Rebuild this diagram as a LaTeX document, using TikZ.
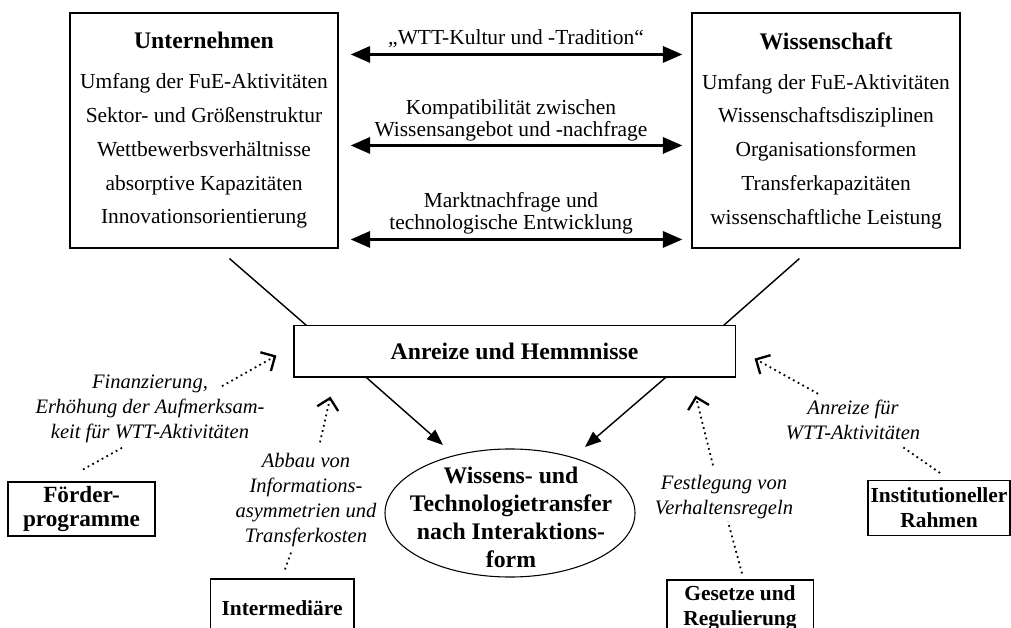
\documentclass[tikz,border=0pt]{standalone}
\usepackage{fontspec}
\setmainfont{Liberation Serif}
\usetikzlibrary{shapes.geometric,arrows.meta,positioning,calc}
\newcommand{\hdr}{\fontsize{13.3}{15.7}\selectfont\bfseries}

\begin{document}
\begin{tikzpicture}[x=0.56pt,y=-0.56pt,font=\fontsize{12}{12.3}\selectfont,
  box/.style={draw,line width=0.6pt,align=center,inner sep=0pt},
  side/.style={box,minimum width=150.1pt,minimum height=131.6pt,font=\fontsize{12}{18.9}\selectfont},
  src/.style={box,minimum height=30.2pt,font=\fontsize{12}{14}\selectfont\bfseries},
  lbl/.style={align=center,inner sep=0pt},
  hint/.style={lbl,font=\fontsize{11.5}{14}\selectfont\itshape},
  dbl/.style={line width=1.8pt,{Triangle[length=11pt,width=9pt]}-{Triangle[length=11pt,width=9pt]}},
  flow/.style={line width=0.8pt,-{Triangle[length=9pt,width=7pt]}},
  infl/.style={dotted,line width=1pt},
  inflarr/.style={infl,-{Straight Barb[length=6pt,width=12pt,line width=1.3pt]}}]
\useasboundingbox (0,0) rectangle (1011,628);
% the two sides
\node[side] (unt) at (204,130.5) {{\hdr Unternehmen}\\[3.5pt]Umfang der FuE-Aktivitäten\\Sektor- und Größenstruktur\\Wettbewerbsverhältnisse\\absorptive Kapazitäten\\Innovationsorientierung};
\node[side] (wis) at (826,130.5) {{\hdr Wissenschaft}\\[3.5pt]Umfang der FuE-Aktivitäten\\Wissenschaftsdisziplinen\\Organisationsformen\\Transferkapazitäten\\wissenschaftliche Leistung};
\node[lbl] (kult) at (516,38.5) {„WTT-Kultur und -Tradition“};
\node[lbl] (komp) at (511,120) {Kompatibilität zwischen\\Wissensangebot und -nachfrage};
\node[lbl] (markt) at (511,213.5) {Marktnachfrage und\\technologische Entwicklung};
\draw[dbl] ([shift={(12,42)}]unt.north east) -- ([shift={(-9,42)}]wis.north west);
\draw[dbl] ([shift={(12,133)}]unt.north east) -- ([shift={(-9,133)}]wis.north west);
\draw[dbl] ([shift={(12,227)}]unt.north east) -- ([shift={(-9,227)}]wis.north west);
% centre
\node[box,minimum width=247pt,minimum height=28.6pt,font=\hdr] (anr) at (514.5,351.5) {Anreize und Hemmnisse};
\node[ellipse,draw,line width=0.6pt,minimum width=140pt,minimum height=71.7pt,inner sep=0pt] (wtt) at (510,513) {};
\node[lbl,font=\hdr] (wtttxt) at (511,517) {Wissens- und\\Technologietransfer\\nach Interaktions-\\form};
\draw[line width=0.8pt] ([shift={(160,10)}]unt.south west) -- ([shift={(13,0)}]anr.north west);
\draw[line width=0.8pt] ([shift={(108,10)}]wis.south west) -- ([shift={(-12,0)}]anr.north east);
\draw[flow] ([shift={(73,0)}]anr.south west) -- ($(wtt.center)+(-67,-68)$);
\draw[flow] ([shift={(-70,0)}]anr.south east) -- ($(wtt.center)+(75,-66)$);
% influences
\node[src,minimum width=82.3pt,font=\fontsize{13}{13}\selectfont\bfseries] (fp) at (81.5,509) {Förder-\\programme};
\node[src,minimum width=80.6pt,minimum height=32.5pt] (inm) at (282,608) {Intermediäre};
\node[src,minimum width=81.8pt,minimum height=31.4pt] (gr) at (740,608) {Gesetze und\\Regulierung};
\node[src,minimum width=79.5pt,minimum height=30.8pt] (inst) at (939,508) {Institutioneller\\Rahmen};
\node[hint] (fin) at (150,408.5) {Finanzierung,\\Erhöhung der Aufmerksam-\\keit für WTT-Aktivitäten};
\node[hint] (abb) at (306,500.5) {Abbau von\\Informations-\\asymmetrien und\\Transferkosten};
\node[hint] (fest) at (724,497.5) {Festlegung von\\Verhaltensregeln};
\node[hint] (anrw) at (853,420) {Anreize für\\WTT-Aktivitäten};
\draw[infl] ([shift={(1.5,-12)}]fp.north) -- ([shift={(-28,5)}]fin.south);
\draw[inflarr] ([shift={(72,12)}]fin.north) -- ([shift={(-17,-22)}]anr.south west);
\draw[infl] ([shift={(3,-9)}]inm.north) -- ([shift={(-14,2)}]abb.south);
\draw[inflarr] ([shift={(14,-11)}]abb.north) -- ([shift={(37,19)}]anr.south west);
\draw[infl] ([shift={(2,-6)}]gr.north) -- ([shift={(4,2)}]fest.south);
\draw[inflarr] ([shift={(-11,-10)}]fest.north) -- ([shift={(-40,18)}]anr.south east);
\draw[infl] ([shift={(1,-7)}]inst.north) -- ([shift={(50,7)}]anrw.south);
\draw[inflarr] ([shift={(-35,-6)}]anrw.north) -- ([shift={(19,-19)}]anr.south east);
\end{tikzpicture}
\end{document}
